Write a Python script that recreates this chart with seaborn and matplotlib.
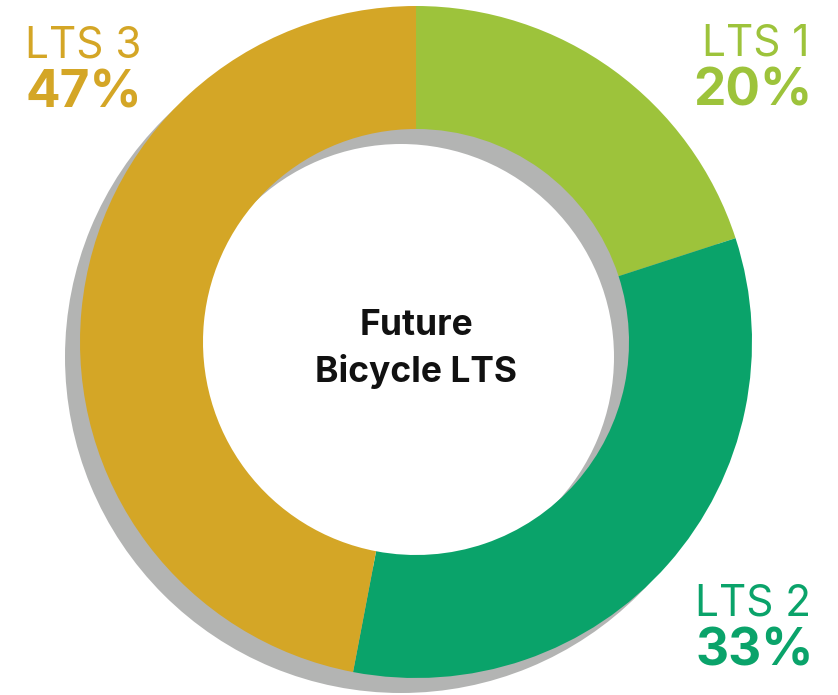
import matplotlib
matplotlib.use("Agg")
import matplotlib.pyplot as plt
import seaborn as sns

# Data
categories = ["LTS 1", "LTS 2", "LTS 3"]
shares = [20, 33, 47]
colors = ["#9DC33B", "#0AA36A", "#D4A626"]
center_title = "Future\nBicycle LTS"

SHADOW = "#B3B4B3"
W, H = 838, 695

sns.set_theme(style="white")
plt.rcParams["font.family"] = ["Inter", "DejaVu Sans"]

fig = plt.figure(figsize=(W / 100, H / 100), dpi=100)
ax = fig.add_axes([0, 0, 1, 1])

cx, cy, r = 416, H - 342, 336
ring = dict(width=123, edgecolor="none")

# drop shadow, shifted down-left
ax.pie([1], colors=[SHADOW], center=(cx - 15, cy - 15), radius=r,
       wedgeprops=ring, frame=True)
ax.pie(shares, colors=colors, center=(cx, cy), radius=r, startangle=90,
       counterclock=False, wedgeprops=ring, frame=True)
ax.set_xlim(0, W)
ax.set_ylim(0, H)
ax.set_aspect("equal")
ax.axis("off")

ax.text(cx, H - 349, center_title, ha="center", va="center",
        fontsize=25.5, fontweight="bold", color="#111111", linespacing=1.4)

# (x, baseline y, alignment) for each label block
label_pos = {"LTS 1": (809, 55, "right"),
             "LTS 2": (811, 615, "right"),
             "LTS 3": (25, 57, "left")}
for cat, val, col in zip(categories, shares, colors):
    x, y, ha = label_pos[cat]
    ax.text(x, H - y, cat, ha=ha, va="baseline", fontsize=30.5,
            fontweight="normal", color=col)
    ax.text(x + (3 if ha == "right" else 0), H - (y + 51), f"{val}%", ha=ha,
            va="baseline", fontsize=37, fontweight="bold", color=col)

fig.savefig("out.png", dpi=100)
